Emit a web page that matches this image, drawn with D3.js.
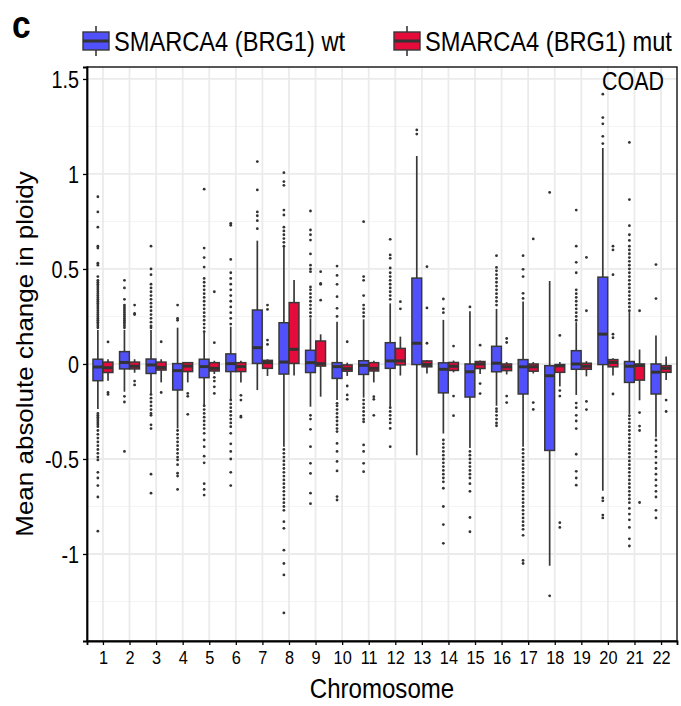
<!DOCTYPE html>
<html>
<head>
<meta charset="utf-8">
<script src="https://cdn.jsdelivr.net/npm/d3@7.9.0/dist/d3.min.js"></script>
<style>
  body { margin: 0; background: #fff; }
  text { font-family: "Liberation Sans", Arial, sans-serif; fill: #000; }
</style>
</head>
<body>
<svg id="chart" width="681" height="706"></svg>
<script>
// chromosomes on the x axis
const chromosomes = ["1","2","3","4","5","6","7","8","9","10","11","12","13","14","15","16","17","18","19","20","21","22"];
const groups = ["SMARCA4 (BRG1) wt", "SMARCA4 (BRG1) mut"];
const groupColors = ["#5151fb", "#e50b3b"];

const yTicks = [-1, -0.5, 0, 0.5, 1, 1.5];
const yTickLabels = ["-1", "-0.5", "0", "0.5", "1", "1.5"];
const yMinor = [-1.25, -0.75, -0.25, 0.25, 0.75, 1.25];

// box stats per chromosome: [lower whisker, q1, median, q3, upper whisker]
const wtStats = [
  [-0.237, -0.088, -0.016, 0.025, 0.179],
  [-0.146, -0.026, 0.008, 0.065, 0.179],
  [-0.155, -0.050, -0.005, 0.026, 0.179],
  [-0.339, -0.137, -0.035, 0.002, 0.191],
  [-0.216, -0.072, -0.014, 0.025, 0.165],
  [-0.186, -0.040, 0.002, 0.053, 0.196],
  [-0.137, 0.003, 0.086, 0.284, 0.649],
  [-0.435, -0.053, 0.010, 0.217, 0.617],
  [-0.225, -0.045, 0.007, 0.072, 0.240],
  [-0.190, -0.076, -0.014, 0.007, 0.222],
  [-0.177, -0.055, -0.007, 0.017, 0.235],
  [-0.225, -0.023, 0.016, 0.112, 0.319],
  [-0.480, -0.003, 0.109, 0.452, 1.095],
  [-0.366, -0.152, -0.028, 0.006, 0.232],
  [-0.442, -0.174, -0.041, 0.000, 0.277],
  [-0.220, -0.041, 0.004, 0.093, 0.290],
  [-0.436, -0.158, -0.015, 0.023, 0.329],
  [-1.062, -0.455, -0.062, -0.009, 0.437],
  [-0.163, -0.028, 0.000, 0.070, 0.220],
  [-0.667, -0.003, 0.157, 0.457, 1.137],
  [-0.263, -0.097, -0.012, 0.013, 0.273],
  [-0.385, -0.158, -0.043, 0.000, 0.150]
];

const mutStats = [
  [-0.088, -0.045, -0.020, 0.010, 0.025],
  [-0.046, -0.026, -0.012, 0.010, 0.025],
  [-0.097, -0.032, -0.018, 0.010, 0.025],
  [-0.097, -0.040, -0.011, 0.007, 0.010],
  [-0.053, -0.037, -0.023, 0.007, 0.017],
  [-0.097, -0.040, -0.014, 0.007, 0.017],
  [-0.063, -0.023, 0.007, 0.019, 0.025],
  [-0.061, 0.003, 0.077, 0.323, 0.442],
  [-0.172, -0.011, 0.002, 0.121, 0.156],
  [-0.063, -0.038, -0.025, -0.005, 0.007],
  [-0.097, -0.037, -0.023, 0.007, 0.017],
  [-0.061, -0.005, 0.016, 0.082, 0.144],
  [-0.050, -0.015, -0.003, 0.016, 0.020],
  [-0.044, -0.034, -0.012, 0.008, 0.018],
  [-0.053, -0.024, 0.000, 0.013, 0.018],
  [-0.055, -0.035, -0.015, 0.000, 0.010],
  [-0.050, -0.038, -0.015, 0.000, 0.010],
  [-0.118, -0.044, -0.010, -0.003, 0.010],
  [-0.065, -0.028, -0.012, 0.004, 0.015],
  [-0.060, -0.015, 0.008, 0.023, 0.030],
  [-0.191, -0.085, -0.008, 0.000, 0.076],
  [-0.084, -0.044, -0.023, -0.009, 0.040]
];

const wtOutliers = [
  [0.88,0.80,0.72,0.62,0.61,0.53,0.52,0.46,0.44,0.43,0.42,0.41,0.40,0.39,0.38,0.37,0.36,0.35,0.34,0.33,0.32,0.31,0.30,0.29,0.28,0.27,0.26,0.25,0.24,0.23,0.22,0.21,0.20,0.19,
   -0.26,-0.27,-0.28,-0.29,-0.30,-0.31,-0.32,-0.33,-0.35,-0.37,-0.39,-0.41,-0.43,-0.45,-0.47,-0.49,-0.505,-0.57,-0.60,-0.64,-0.70,-0.88],
  [0.44,0.40,0.34,0.31,0.30,0.29,0.28,0.27,0.26,0.25,0.24,0.23,0.22,0.21,0.20,0.19,-0.17,-0.20,-0.46],
  [0.62,0.50,0.47,0.42,0.40,0.38,0.36,0.34,0.32,0.30,0.28,0.26,0.24,0.22,0.20,0.19,
   -0.16,-0.18,-0.20,-0.22,-0.24,-0.26,-0.27,-0.32,-0.34,-0.58,-0.68],
  [0.31,0.24,0.23,-0.35,-0.37,-0.39,-0.41,-0.43,-0.45,-0.47,-0.49,-0.505,-0.53,-0.575,-0.59,-0.66],
  [0.92,0.61,0.56,0.51,0.45,0.43,0.41,0.39,0.37,0.35,0.33,0.31,0.29,0.27,0.25,0.23,0.21,0.19,0.17,
   -0.22,-0.24,-0.26,-0.28,-0.30,-0.32,-0.34,-0.365,-0.40,-0.435,-0.485,-0.52,-0.63,-0.66,-0.69],
  [0.74,0.73,0.55,0.48,0.45,0.42,0.39,0.36,0.33,0.30,0.27,0.24,0.21,
   -0.19,-0.21,-0.23,-0.25,-0.27,-0.29,-0.31,-0.33,-0.365,-0.42,-0.46,-0.50,-0.57,-0.64],
  [1.065,0.916,0.80,0.78,0.754,0.712],
  [1.007,0.96,0.94,0.81,0.784,0.72,0.70,0.68,0.66,0.64,0.62,
   -0.45,-0.47,-0.49,-0.51,-0.53,-0.55,-0.57,-0.59,-0.61,-0.63,-0.65,-0.67,-0.69,-0.71,-0.73,-0.75,-0.77,-0.83,-0.865,-0.98,-1.05,-1.11,-1.31],
  [0.805,0.705,0.68,0.652,0.579,0.52,0.50,0.486,0.405,0.39,0.37,0.35,0.33,0.31,0.29,0.27,0.25,
   -0.27,-0.29,-0.344,-0.435,-0.523,-0.576,-0.68,-0.735],
  [0.515,0.466,0.419,0.354,0.293,0.25,-0.207,-0.22,-0.24,-0.26,-0.28,-0.30,-0.32,-0.34,-0.356,-0.418,-0.46,-0.513,-0.563,-0.698,-0.716],
  [0.749,0.46,0.44,0.36,0.31,0.29,0.27,0.25,-0.19,-0.21,-0.23,-0.25,-0.27,-0.29,-0.304,-0.426,-0.46,-0.523,-0.567],
  [0.656,0.574,0.556,0.505,0.48,0.46,0.44,0.42,0.40,0.38,0.36,0.34,-0.23,-0.25,-0.27,-0.29,-0.31,-0.339,-0.435],
  [1.232,1.21],
  [0.342,0.29,0.27,-0.40,-0.42,-0.44,-0.46,-0.48,-0.50,-0.52,-0.54,-0.56,-0.58,-0.60,-0.62,-0.654,-0.75,-0.845,-0.944],
  [0.30,-0.46,-0.48,-0.50,-0.52,-0.54,-0.56,-0.58,-0.60,-0.63,-0.67,-0.808,-0.883],
  [0.57,0.508,0.49,0.47,0.45,0.43,0.41,0.39,0.37,0.35,0.33,0.31,-0.235,-0.25,-0.27,-0.29,-0.31,-0.325],
  [0.57,0.498,0.46,0.372,0.345,-0.45,-0.47,-0.49,-0.51,-0.53,-0.55,-0.57,-0.59,-0.61,-0.63,-0.65,-0.67,-0.69,-0.71,-0.73,-0.75,-0.77,-0.79,-0.81,-0.83,-0.85,-0.87,-0.902,-1.034,-1.05],
  [0.903,-1.22],
  [0.81,0.62,0.535,0.48,0.39,0.37,0.35,0.33,0.31,0.29,0.27,0.25,0.23,-0.206,-0.23,-0.27,-0.30,-0.34,-0.475,-0.565,-0.60,-0.638],
  [1.42,1.297,1.264,1.198,1.16,-0.705,-0.72,-0.795,-0.81],
  [1.166,0.865,0.728,0.68,0.65,0.62,0.60,0.58,0.56,0.54,0.52,0.50,0.48,0.46,0.44,0.42,0.40,0.38,0.36,0.34,0.32,0.30,0.28,
   -0.272,-0.29,-0.31,-0.33,-0.35,-0.37,-0.39,-0.41,-0.43,-0.45,-0.47,-0.49,-0.51,-0.53,-0.55,-0.57,-0.59,-0.61,-0.63,-0.65,-0.67,-0.69,-0.71,-0.73,-0.76,-0.79,-0.82,-0.86,-0.92,-0.958],
  [0.523,0.344,-0.40,-0.43,-0.46,-0.49,-0.52,-0.55,-0.58,-0.61,-0.64,-0.67,-0.70,-0.77,-0.81]
];

const mutOutliers = [
  [0.116,-0.15,-0.16],
  [0.31,0.266,0.26,-0.09,-0.11],
  [0.117,-0.15],
  [-0.155,-0.17,-0.265],
  [0.38,0.112,-0.07,-0.09,-0.12,-0.155],
  [-0.165,-0.19,-0.274,-0.28],
  [0.31,0.287,0.126,0.103],
  [],
  [0.486,0.424,0.419,0.336],
  [0.117,-0.116,-0.163,-0.186],
  [-0.172,-0.186,-0.27],
  [0.328,0.29],
  [0.512,0.295,0.109],
  [0.094,-0.169,-0.272],
  [0.099,-0.103,-0.156],
  [0.134,0.113,-0.169,-0.203],
  [0.658,-0.203,-0.239],
  [0.15,-0.14,-0.169,-0.835,-0.86],
  [0.561,0.28,-0.197,-0.24],
  [0.62,0.60,0.47,0.157,0.138,-0.158],
  [0.28,-0.256,-0.327,-0.35,-0.729],
  [-0.19,-0.25]
];

const statsByGroup = [wtStats, mutStats];
const outliersByGroup = [wtOutliers, mutOutliers];

const panel = { left: 87, right: 677, top: 67, bottom: 641 };
const sx = 0.86; // glyphs in the figure are a bit narrow
const edge = "#383838";

const svg = d3.select("#chart");

const x = d3.scalePoint().domain(chromosomes).range([panel.left, panel.right]).padding(0.6);
const step = x.step();
const dodge = d3.scaleBand().domain(groups).range([-0.375 * step, 0.375 * step]).paddingInner(0.04);
const y = d3.scaleLinear().domain([-1.458, 1.563]).range([panel.bottom, panel.top]);

function label(g, px, py, str, size, anchor, weight) {
  return g.append("text")
    .attr("transform", `translate(${px},${py}) scale(${sx},1)`)
    .attr("text-anchor", anchor || "start")
    .attr("font-size", size)
    .attr("font-weight", weight || "normal")
    .text(str);
}

// panel background + grid
svg.append("rect")
  .attr("x", panel.left).attr("y", panel.top)
  .attr("width", panel.right - panel.left).attr("height", panel.bottom - panel.top)
  .attr("fill", "#fff");

const grid = svg.append("g");
grid.selectAll(".minor").data(yMinor).join("line")
  .attr("x1", panel.left).attr("x2", panel.right)
  .attr("y1", d => y(d)).attr("y2", d => y(d))
  .attr("stroke", "#f4f4f4").attr("stroke-width", 1.1);
grid.selectAll(".major").data(yTicks).join("line")
  .attr("x1", panel.left).attr("x2", panel.right)
  .attr("y1", d => y(d)).attr("y2", d => y(d))
  .attr("stroke", "#ebebeb").attr("stroke-width", 1.8);
grid.selectAll(".vert").data(chromosomes).join("line")
  .attr("x1", d => x(d)).attr("x2", d => x(d))
  .attr("y1", panel.top).attr("y2", panel.bottom)
  .attr("stroke", "#ebebeb").attr("stroke-width", 1.8);

// boxes
const bw = dodge.bandwidth();
groups.forEach((grp, gi) => {
  const layer = svg.append("g");
  chromosomes.forEach((chr, i) => {
    const [lo, q1, med, q3, hi] = statsByGroup[gi][i];
    const cx = x(chr) + dodge(grp) + bw / 2;
    layer.append("line")
      .attr("x1", cx).attr("x2", cx)
      .attr("y1", y(hi)).attr("y2", y(lo))
      .attr("stroke", edge).attr("stroke-width", 1.7);
    layer.append("rect")
      .attr("x", cx - bw / 2).attr("width", bw)
      .attr("y", y(q3)).attr("height", Math.max(1, y(q1) - y(q3)))
      .attr("fill", groupColors[gi])
      .attr("stroke", edge).attr("stroke-width", 1.5);
    layer.append("line")
      .attr("x1", cx - bw / 2).attr("x2", cx + bw / 2)
      .attr("y1", y(med)).attr("y2", y(med))
      .attr("stroke", "#333").attr("stroke-width", 3);
    layer.selectAll(null).data(outliersByGroup[gi][i]).join("circle")
      .attr("cx", cx).attr("cy", d => y(d))
      .attr("r", 1.4).attr("fill", "#333");
  });
});

// border
svg.append("rect")
  .attr("x", panel.left).attr("y", panel.top)
  .attr("width", panel.right - panel.left).attr("height", panel.bottom - panel.top)
  .attr("fill", "none").attr("stroke", "#111").attr("stroke-width", 1.4);

// axes
const yAxis = svg.append("g")
  .attr("transform", `translate(${panel.left},0)`)
  .call(d3.axisLeft(y).tickValues(yTicks).tickSize(4).tickFormat((d, i) => yTickLabels[i]));
yAxis.select(".domain").attr("stroke", "#000").attr("stroke-width", 1.8);
yAxis.selectAll(".tick line").attr("stroke", "#000").attr("stroke-width", 1.3);
yAxis.selectAll(".tick text")
  .attr("font-size", 23).attr("font-family", null)
  .attr("x", -8 / sx).attr("dy", "0.36em")
  .attr("transform", `scale(${sx},1)`);

const xAxis = svg.append("g")
  .attr("transform", `translate(0,${panel.bottom})`)
  .call(d3.axisBottom(x).tickSize(4));
xAxis.select(".domain").attr("stroke", "#000").attr("stroke-width", 1.8);
xAxis.selectAll(".tick line").attr("stroke", "#000").attr("stroke-width", 1.3);
xAxis.selectAll(".tick text")
  .attr("font-size", 19).attr("font-family", null)
  .attr("y", 9).attr("dy", "0.76em")
  .attr("transform", `scale(${sx},1)`);

// titles
label(svg, (panel.left + panel.right) / 2, 698, "Chromosome", 28, "middle");
svg.append("text")
  .attr("transform", `translate(33,${(panel.top + panel.bottom) / 2}) scale(0.95,1) rotate(-90)`)
  .attr("text-anchor", "middle")
  .attr("font-size", 26)
  .text("Mean absolute change in ploidy");
label(svg, 664, 90, "COAD", 25, "end");
label(svg, 12, 38, "c", 39, "start", "bold");

// legend
const legendX = [83, 394];
groups.forEach((grp, gi) => {
  const g = svg.append("g").attr("transform", `translate(${legendX[gi]},0)`);
  g.append("line").attr("x1", 13).attr("x2", 13).attr("y1", 26).attr("y2", 56)
    .attr("stroke", edge).attr("stroke-width", 1.6);
  g.append("rect").attr("x", 0).attr("y", 32).attr("width", 26).attr("height", 18)
    .attr("fill", groupColors[gi]).attr("stroke", edge).attr("stroke-width", 1.4);
  g.append("line").attr("x1", 0).attr("x2", 26).attr("y1", 41).attr("y2", 41)
    .attr("stroke", "#333").attr("stroke-width", 3);
  label(g, 31, 51, grp, 27.5, "start");
});
</script>
</body>
</html>
